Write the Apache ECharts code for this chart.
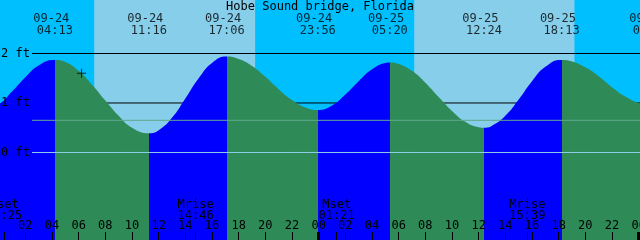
<!DOCTYPE html>
<html><head><meta charset="utf-8">
<script src="https://cdn.jsdelivr.net/npm/echarts@6/dist/echarts.min.js"></script>
<style>html,body{margin:0;padding:0;background:#fff}#c{width:640px;height:240px}</style>
</head><body><div id="c"></div>
<script>
// ---- data ----
const chartTitle = 'Hobe Sound bridge, Florida';
// tide extremes (low/high), feet
const extremeDates = ['09-23','09-24','09-24','09-24','09-24','09-25','09-25','09-25','09-26'];
const extremeTimes = ['22:25','04:13','11:16','17:06','23:56','05:20','12:24','18:13','00:55'];
const extremeFeet  = [0.78, 1.87, 0.39, 1.94, 0.86, 1.82, 0.50, 1.87, 0.95];
// hourly tide heights (ft), hour 0..49 after 09-24 00:00
const hourlyFeet = [0.97,1.23,1.52,1.76,1.87,1.83,1.65,1.37,1.05,0.74,
                    0.50,0.40,0.45,0.70,1.09,1.50,1.81,1.94,1.89,1.75,
                    1.53,1.28,1.06,0.91,0.86,0.95,1.17,1.44,1.68,1.81,
                    1.79,1.65,1.41,1.12,0.84,0.62,0.51,0.54,0.74,1.07,
                    1.44,1.73,1.87,1.84,1.72,1.54,1.32,1.13,1.00,0.95];
// daylight (sunrise, sunset)
const sunriseDates = ['09-24','09-25'];
const sunriseTimes = ['07:10','07:10'];
const sunsetDates  = ['09-24','09-25'];
const sunsetTimes  = ['19:14','19:11'];
// moon events
const moonNames = ['Mset','Mrise','Mset','Mrise'];
const moonDates = ['09-24','09-24','09-25','09-25'];
const moonTimes = ['00:25','14:46','01:21','15:39'];
// current-time mark
const nowDate = '09-24', nowTime = '06:13', nowFeet = 1.60;
// reference levels (ft)
const depthLevels = [1, 2];   // drawn behind the water
const datumLevels = [0];      // drawn over the water
const meanLevels = [0.65];    // drawn over the water
const yLabelValues = [0, 1, 2];
const hourTickValues = [0,2,4,6,8,10,12,14,16,18,20,22,24,26,28,30,32,34,36,38,40,42,44,46,48];
const midnightValues = [24, 48];

// ---- layout / style ----
const X_MIN = 0.1, X_MAX = 48.1;
const Y_MIN = -1.768, Y_MAX = 3.081;
const LINE_START = 2.5;
const FONT = 'DejaVu Sans Mono';
const NIGHT = '#00bfff', DAY = '#87ceeb', RISE = '#0000ff', FALL = '#2e8b57';
const DEPTH_COLOR = '#000000';
const DATUM_COLOR = '#8fd0e8', MEAN_COLOR = '#5fa88e';

function toHour(d, t) {
  const day = +d.slice(3);
  const p = t.split(':').map(Number);
  return (day - 24) * 24 + p[0] + p[1] / 60;
}
const extremeHours = extremeDates.map((d, i) => toHour(d, extremeTimes[i]));
const moonHours = moonDates.map((d, i) => toHour(d, moonTimes[i]));
const curve = hourlyFeet.map((v, i) => [i, v])
  .filter(p => extremeHours.every(h => Math.abs(h - p[0]) > 0.3))
  .concat(extremeHours.map((h, i) => [h, extremeFeet[i]]))
  .sort((a, b) => a[0] - b[0]);
const pieces = [];
for (let i = 0; i < extremeHours.length - 1; i++) {
  pieces.push({ gte: extremeHours[i], lt: extremeHours[i + 1],
    color: extremeFeet[i + 1] > extremeFeet[i] ? RISE : FALL });
}
const dayAreas = sunriseDates.map((d, i) => [
  { xAxis: toHour(d, sunriseTimes[i]) },
  { xAxis: toHour(sunsetDates[i], sunsetTimes[i]) }
]);
const pad = n => (n < 10 ? '0' : '') + n;
function levelSeries(v, color, z) {
  return { type: 'line', z: z, silent: true, symbol: 'none', animation: false,
    data: [[LINE_START, v], [X_MAX, v]],
    lineStyle: { color: color, width: 1 } };
}

const txt = { fontFamily: FONT, fontSize: 12, color: '#000' };
const baseX = { type: 'value', min: X_MIN, max: X_MAX, position: 'bottom', z: 10,
  axisLine: { show: false, onZero: false }, splitLine: { show: false } };

const series = [
  { type: 'line', data: [], z: 1, silent: true,
    markArea: { silent: true, itemStyle: { color: DAY, opacity: 1, borderWidth: 0 }, data: dayAreas } }
]
  .concat(depthLevels.map(v => levelSeries(v, DEPTH_COLOR, 2)))
  .concat([{ type: 'line', data: curve, z: 5, silent: true, smooth: 0.5,
    symbol: 'none', lineStyle: { width: 0 }, areaStyle: { origin: 'start', opacity: 1 } }])
  .concat(datumLevels.map(v => levelSeries(v, DATUM_COLOR, 6)))
  .concat(meanLevels.map(v => levelSeries(v, MEAN_COLOR, 6)))
  .concat([
    { type: 'scatter', z: 7, silent: true, clip: false,
      data: [[toHour(nowDate, nowTime), nowFeet]],
      symbol: 'path://M0,4H9V5H0Z M4,0H5V9H4Z', symbolSize: 9, itemStyle: { color: '#000' } },
    { type: 'scatter', z: 8, silent: true, clip: false, symbolSize: 0,
      data: extremeHours.map(h => [h, Y_MAX]),
      itemStyle: { color: 'transparent' },
      label: Object.assign({ show: true, position: 'bottom', distance: 13, lineHeight: 12,
        formatter: p => extremeDates[p.dataIndex] + ' \n' + extremeTimes[p.dataIndex] }, txt) }
  ]);
const tideIndex = 1 + depthLevels.length;

const chart = echarts.init(document.getElementById('c'), null, { renderer: 'canvas' });
chart.setOption({
  animation: false,
  backgroundColor: '#ffffff',
  title: { text: chartTitle, left: 'center', top: 1, padding: 0, z: 12,
    textStyle: Object.assign({ fontWeight: 'normal', lineHeight: 12 }, txt) },
  grid: { left: 0, right: 0, top: 0, bottom: 0, containLabel: false, outerBoundsMode: 'none',
    show: true, backgroundColor: NIGHT, borderWidth: 0 },
  xAxis: [
    Object.assign({}, baseX, {
      axisTick: { inside: true, length: 8, customValues: hourTickValues, lineStyle: { color: '#000', width: 1 } },
      axisLabel: Object.assign({ inside: true, margin: 8, customValues: hourTickValues,
        formatter: v => pad(((Math.round(v) % 24) + 24) % 24) }, txt)
    }),
    Object.assign({}, baseX, {
      axisTick: { inside: true, length: 8, customValues: moonHours, lineStyle: { color: '#000', width: 1 } },
      axisLabel: Object.assign({ inside: true, margin: 19, lineHeight: 11, customValues: moonHours,
        formatter: v => { const i = moonHours.findIndex(h => Math.abs(h - v) < 1e-6); return moonNames[i] + '\n' + moonTimes[i]; } }, txt)
    }),
    Object.assign({}, baseX, {
      axisTick: { inside: true, length: 8, customValues: midnightValues, lineStyle: { color: '#000', width: 3 } },
      axisLabel: { show: false }
    })
  ],
  yAxis: { type: 'value', min: Y_MIN, max: Y_MAX, z: 10,
    axisLine: { show: false, onZero: false }, axisTick: { show: false }, splitLine: { show: false },
    axisLabel: Object.assign({ inside: true, margin: 1, customValues: yLabelValues, padding: [2, 0, 0, 0],
      formatter: v => v + ' ft' }, txt) },
  visualMap: { type: 'piecewise', show: false, dimension: 0, seriesIndex: tideIndex, pieces: pieces,
    outOfRange: { color: FALL } },
  series: series
});
</script></body></html>
